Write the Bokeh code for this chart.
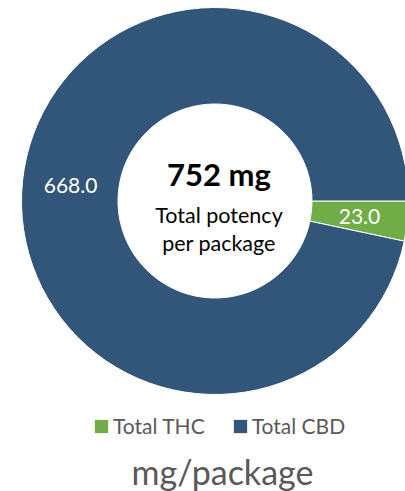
import numpy as np
from bokeh.plotting import figure
from bokeh.models import ColumnDataSource, Range1d, Legend, LegendItem
from bokeh.core.properties import value
from bokeh.embed import file_html
from bokeh.resources import INLINE

# ---- data ----
categories = ["Total THC", "Total CBD"]
values = [23.0, 668.0]
colors = ["#70AD47", "#32557A"]
center_total = "752 mg"
center_lines = ["Total potency", "per package"]
title_text = "mg/package"

# ---- layout ----
W, H = 405, 491
CX, CY = 214.5, -200.5
R_OUT, R_IN = 193.5, 97.0
FONT = "Lato"
GRAY = "#595959"

vals = np.array(values)
frac = vals / vals.sum()
cum = np.concatenate([[0.0], np.cumsum(frac)])
start = -2 * np.pi * cum[:-1]
end = -2 * np.pi * cum[1:]
mid = (start + end) / 2
r_mid = (R_OUT + R_IN) / 2

src = ColumnDataSource(dict(
    cat=categories, val=values, color=colors, start=start, end=end,
    lx=CX + r_mid * np.cos(mid), ly=CY + r_mid * np.sin(mid),
    label=[f"{v:.1f}" for v in values],
))

p = figure(width=W, height=H, x_range=Range1d(0, W), y_range=Range1d(-H, 0),
           output_backend="svg", toolbar_location=None, tools="", min_border=0)
p.xaxis.visible = False
p.yaxis.visible = False
p.grid.visible = False
p.outline_line_color = None
p.background_fill_color = "white"
p.border_fill_color = "white"

r = p.annular_wedge(x=CX, y=CY, inner_radius=R_IN, outer_radius=R_OUT,
                    inner_radius_units="screen", outer_radius_units="screen",
                    start_angle="start", end_angle="end", direction="clock",
                    fill_color="color", line_color="white", line_width=1, source=src)

p.text(x="lx", y="ly", text="label", source=src, text_color="white",
       text_font=value(FONT), text_font_size="21px", text_align="center",
       text_baseline="middle")

# center text
p.text(x=[CX + 4], y=[CY + 27], text=[center_total], text_color="black",
       text_font=value(FONT), text_font_style="bold", text_font_size="31px",
       text_align="center", text_baseline="middle")
p.text(x=[CX + 4, CX + 4], y=[CY - 13.5, CY - 42], text=center_lines,
       text_color="black", text_font=value(FONT), text_font_size="21.5px",
       text_align="center", text_baseline="middle")

# title below
p.text(x=[CX + 7.5], y=[-470.5], text=[title_text], text_color=GRAY,
       text_font=value(FONT), text_font_size="34px", text_align="center",
       text_baseline="middle")

legend = Legend(items=[LegendItem(label=c, renderers=[r], index=i)
                       for i, c in enumerate(categories)],
                orientation="horizontal", location=(92, 53),
                glyph_width=18, glyph_height=18, label_standoff=3, spacing=26,
                padding=0, margin=0, border_line_color=None,
                background_fill_alpha=0,
                label_text_font=FONT, label_text_font_size="21px",
                label_text_color=GRAY)
p.add_layout(legend)

open("out.html", "w").write(file_html(p, INLINE))
